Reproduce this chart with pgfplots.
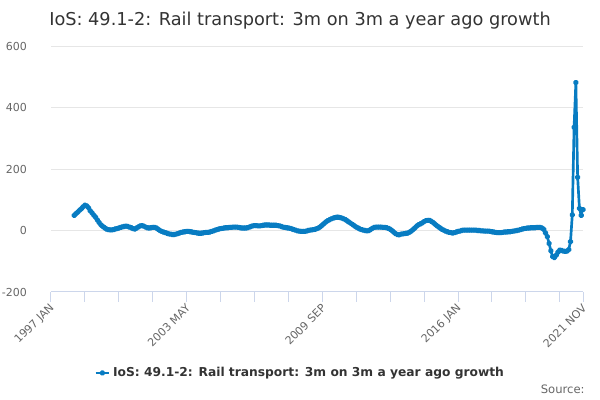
\documentclass[border=0pt]{standalone}
\usepackage{pgfplots}
\pgfplotsset{compat=1.18}
\usepackage{fontspec}
\setmainfont{DejaVu Sans}
\definecolor{serie}{RGB}{8,124,194}
\definecolor{gridc}{RGB}{230,230,230}
\definecolor{axisc}{RGB}{204,214,235}
\definecolor{labc}{RGB}{102,102,102}
\definecolor{titc}{RGB}{51,51,51}
\begin{document}
\begin{tikzpicture}
\path[use as bounding box] (0,0) rectangle (450pt,300pt);
\node[anchor=base, text=titc, font=\fontsize{13.3}{16}\selectfont] at (225pt,281pt) {IoS: 49.1-2: Rail transport: 3m on 3m a year ago growth};
\node[anchor=base east, text=labc, font=\fontsize{8.7}{10}\selectfont] at (442pt,5pt) {Source:};
\begin{axis}[
  at={(38.25pt,81pt)}, anchor=south west,
  scale only axis, width=399pt, height=184.5pt,
  xmin=0, xmax=298, ymin=-200, ymax=600,
  axis x line*=bottom, axis y line*=left,
  x axis line style={draw=axisc, line width=0.75pt, -},
  y axis line style={draw=none},
  ytick={-200,0,200,400,600},
  yticklabels={-200,0,200,400,600},
  ymajorgrids, grid style={draw=gridc, line width=0.75pt},
  ytick style={draw=none},
  xtick={0,76,152,228,298},
  xticklabels={1997 JAN,2003 MAY,2009 SEP,2016 JAN,2021 NOV},
  extra x ticks={19,38,57,95,114,133,171,190,209,247,266,285},
  extra x tick labels={},
  extra x tick style={grid=none, xtick style={draw=axisc, line width=0.75pt}},
  xtick style={draw=axisc, line width=0.75pt},
  major tick length=7.5pt, tick align=outside,
  tick label style={text=labc, font=\fontsize{8.25}{10}\selectfont},
  yticklabel style={anchor=east, xshift=-7pt},
  xticklabel style={rotate=45, anchor=east, yshift=-3pt, xshift=2pt},
  legend style={at={(0.469,-0.329)}, anchor=center, draw=none, fill=none,
    font=\bfseries\fontsize{9.2}{11}\selectfont, text=titc},
  legend image code/.code={\draw[#1, mark repeat=2, mark phase=2] plot coordinates {(0pt,0pt) (5pt,0pt) (10pt,0pt)};},
]
\addplot[color=serie, line width=2pt, mark=*, mark size=1.2pt, line join=round] table[x=i, y=v] {
i v
13 49
14 55
15 60
16 66
17 71
18 77
19 82
20 80
21 74
22 64
23 57
24 50
25 43
26 34
27 26
28 18
29 13
30 9
31 5
32 3
33 2
34 2
35 3
36 5
37 6
38 8
39 10
40 12
41 13
42 14
43 13
44 11
45 9
46 6
47 5
48 8
49 12
50 15
51 16
52 14
53 11
54 9
55 8
56 9
57 10
58 10
59 8
60 4
61 0
62 -3
63 -5
64 -7
65 -9
66 -11
67 -12
68 -13
69 -13
70 -12
71 -10
72 -8
73 -6
74 -5
75 -4
76 -3
77 -3
78 -4
79 -5
80 -6
81 -7
82 -8
83 -9
84 -9
85 -8
86 -7
87 -6
88 -6
89 -5
90 -3
91 -1
92 1
93 3
94 5
95 6
96 7
97 8
98 9
99 9
100 10
101 10
102 11
103 11
104 11
105 10
106 9
107 8
108 8
109 8
110 9
111 11
112 13
113 15
114 16
115 16
116 15
117 15
118 16
119 17
120 18
121 18
122 18
123 17
124 17
125 17
126 17
127 16
128 15
129 13
130 11
131 10
132 9
133 8
134 7
135 5
136 3
137 1
138 -1
139 -2
140 -3
141 -3
142 -3
143 -2
144 0
145 1
146 2
147 3
148 4
149 6
150 9
151 13
152 18
153 23
154 28
155 32
156 35
157 38
158 40
159 42
160 43
161 43
162 42
163 40
164 38
165 35
166 31
167 27
168 23
169 19
170 15
171 11
172 8
173 5
174 3
175 1
176 0
177 -1
178 0
179 3
180 7
181 10
182 11
183 11
184 11
185 11
186 10
187 10
188 9
189 7
190 4
191 0
192 -5
193 -10
194 -13
195 -14
196 -12
197 -11
198 -10
199 -9
200 -8
201 -5
202 -1
203 4
204 9
205 15
206 19
207 22
208 25
209 29
210 32
211 33
212 33
213 30
214 26
215 21
216 16
217 12
218 8
219 4
220 1
221 -2
222 -4
223 -6
224 -7
225 -8
226 -7
227 -5
228 -3
229 -2
230 0
231 1
232 1
233 1
234 1
235 1
236 1
237 1
238 1
239 0
240 0
241 -1
242 -1
243 -2
244 -2
245 -2
246 -3
247 -4
248 -5
249 -6
250 -7
251 -7
252 -7
253 -6
254 -5
255 -5
256 -4
257 -4
258 -3
259 -2
260 -1
261 0
262 1
263 3
264 5
265 6
266 7
267 8
268 8
269 9
270 9
271 9
272 10
273 10
274 10
275 8
276 4
277 -8
278 -20
279 -42
280 -66
281 -85
282 -88
283 -80
284 -70
285 -64
286 -65
287 -67
288 -68
289 -67
290 -62
291 -36
292 51
293 336
294 481
295 173
296 72
297 49
298 68
};
\addlegendentry{IoS: 49.1-2: Rail transport: 3m on 3m a year ago growth}
\end{axis}
\end{tikzpicture}
\end{document}
